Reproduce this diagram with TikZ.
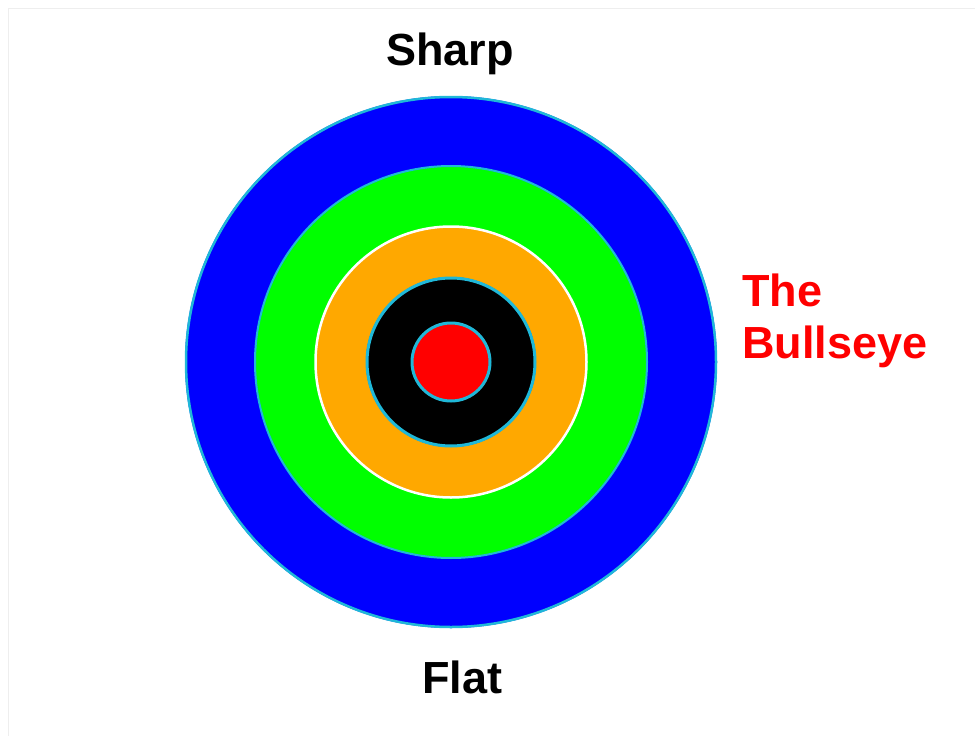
\documentclass[tikz,border=0pt]{standalone}
\usepackage{fontspec}
\setmainfont{Liberation Sans}
\definecolor{rim}{HTML}{1FB8D8}
\definecolor{ringblue}{HTML}{0000FF}
\definecolor{ringgreen}{HTML}{00FF00}
\definecolor{ringorange}{HTML}{FFA800}
\definecolor{eyered}{HTML}{FF0000}
\definecolor{framegray}{HTML}{EEEEEE}
\tikzset{
  lbl/.style={font=\fontsize{45}{52}\selectfont\bfseries, inner sep=0pt, anchor=base},
  redlbl/.style={lbl, text=eyered, anchor=base west},
}
\begin{document}
\begin{tikzpicture}[x=1pt,y=1pt]
\useasboundingbox (0,0) rectangle (975,-736);
\fill[white] (0,0) rectangle (975,-736);
\draw[framegray, line width=1pt] (8,-736) -- (8,-8) -- (975,-8);
\coordinate (c) at (451,-362);
\fill[ringblue] (c) circle (266);
\draw[rim, line width=2.5pt] (c) circle (265);
\fill[ringgreen] (c) circle (196);
\draw[rim, line width=2pt] (c) circle (196);
\fill[ringorange] (c) circle (136);
\draw[white, line width=2.5pt] (c) circle (135.5);
\fill[black] (c) circle (85);
\draw[rim, line width=3pt] (c) circle (84);
\fill[eyered] (c) circle (40);
\draw[rim, line width=3pt] (c) circle (39);
\node[lbl] (sharp) at (450,-65) {Sharp};
\node[lbl] (flat) at (462,-693) {Flat};
\node[redlbl] (the) at (742,-306) {The};
\node[redlbl] (bullseye) at (742,-358) {Bullseye};
\end{tikzpicture}
\end{document}
